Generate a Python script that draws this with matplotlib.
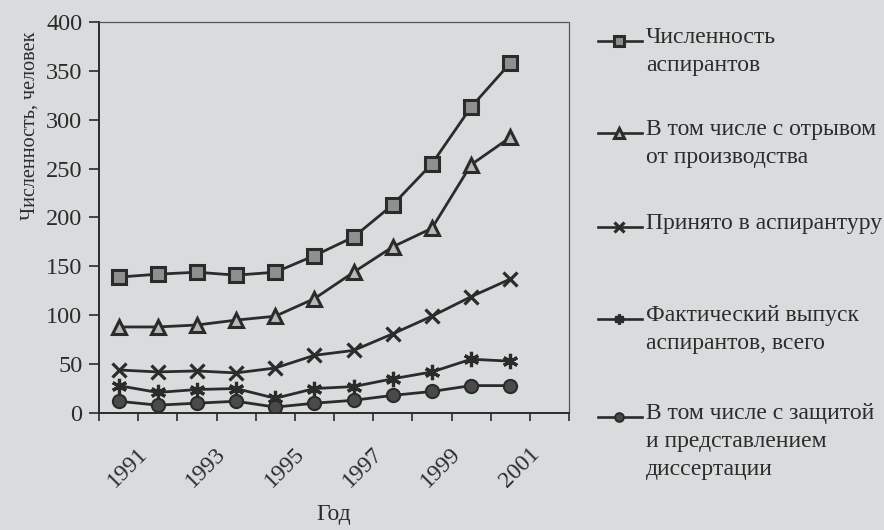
import matplotlib.pyplot as plt
from matplotlib.lines import Line2D
from matplotlib.ticker import MultipleLocator, FixedLocator, NullFormatter

plt.rcParams['font.family'] = ['Liberation Serif', 'DejaVu Serif']

years = [1991, 1992, 1993, 1994, 1995, 1996, 1997, 1998, 1999, 2000, 2001]
total = [139, 142, 144, 141, 144, 161, 180, 213, 255, 313, 358]
full_time = [88, 88, 90, 95, 99, 117, 144, 170, 189, 254, 282]
admitted = [44, 42, 43, 41, 46, 59, 64, 81, 99, 119, 137]
graduated = [28, 21, 24, 25, 15, 25, 27, 35, 42, 55, 53]
defended = [12, 8, 10, 12, 6, 10, 13, 18, 22, 28, 28]

labels = [
    'Численность\nаспирантов',
    'В том числе с отрывом\nот производства',
    'Принято в аспирантуру',
    'Фактический выпуск\nаспирантов, всего',
    'В том числе с защитой\nи представлением\nдиссертации',
]

bg = '#d8dcdd'
ink = '#2b2b2b'
styles = [
    dict(marker='s', ms=10, mfc='#8f8f8f', mec=ink, mew=2.2),
    dict(marker='^', ms=10, mfc='#b8b8b8', mec=ink, mew=2.2),
    dict(marker='x', ms=10, mec=ink, mew=2.3),
    dict(marker=(6, 2, 0), ms=11, mec=ink, mew=2.3),
    dict(marker='o', ms=9.5, mfc='#4a4a4a', mec=ink, mew=1.5),
]
series = [total, full_time, admitted, graduated, defended]

fig = plt.figure(figsize=(8.84, 5.3), dpi=100, facecolor=bg)
ax = fig.add_axes([0.112, 0.2208, 0.5317, 0.7377])
ax.set_facecolor(bg)

x = list(range(len(years)))
for vals, st in zip(series, styles):
    ax.plot(x, vals, color=ink, lw=2.0, **st)

ax.set_xlim(-0.5, 11.5)
ax.set_ylim(0, 400)
ax.yaxis.set_major_locator(MultipleLocator(50))
ax.set_xticks([])
ax.xaxis.set_minor_locator(FixedLocator([i - 0.5 for i in range(13)]))
ax.xaxis.set_minor_formatter(NullFormatter())
ax.tick_params(axis='x', which='minor', length=6, width=1.2, color=ink,
               direction='out')
ax.tick_params(axis='y', length=7, width=1.2, color=ink, labelsize=17.5,
               pad=5, direction='out')
for lab in ax.get_yticklabels():
    lab.set_color(ink)

# year labels, every second year, slanted and set a little to the right
for xi, yr in zip(x[::2], years[::2]):
    ax.annotate(str(yr), xy=(xi, 0), xycoords=('data', 'axes fraction'),
                xytext=(6.5, -39), textcoords='offset points',
                ha='center', va='center', rotation=45, fontsize=17,
                color=ink, annotation_clip=False)

for s in ['left', 'bottom']:
    ax.spines[s].set_color(ink)
    ax.spines[s].set_linewidth(1.4)
for s in ['top', 'right']:
    ax.spines[s].set_color('#555555')
    ax.spines[s].set_linewidth(0.9)
    ax.spines[s].set_linestyle((0, (1, 1)))

ax.set_ylabel('Численность, человек', fontsize=14.5, color=ink)
ax.yaxis.set_label_coords(-0.126, 0.734)
ax.set_xlabel('Год', fontsize=17, color=ink)
ax.xaxis.set_label_coords(0.5, -0.232)

# legend drawn by hand so the marker sits on the first text line
W, H = 884, 530
first_line_y = [41, 133, 227, 319, 417]
for lab, st, yy in zip(labels, styles, first_line_y):
    yf = 1 - yy / H
    fig.add_artist(Line2D([598 / W, 642 / W], [yf, yf], color=ink, lw=1.9))
    fig.add_artist(Line2D([619 / W], [yf], color=ink, lw=0,
                          **{**st, 'ms': st['ms'] * 0.65}))
    fig.text(646 / W, yf + 14 / H, lab, fontsize=17, color=ink,
             va='top', ha='left', linespacing=1.45)

fig.savefig('out.png', dpi=100, facecolor=bg)
